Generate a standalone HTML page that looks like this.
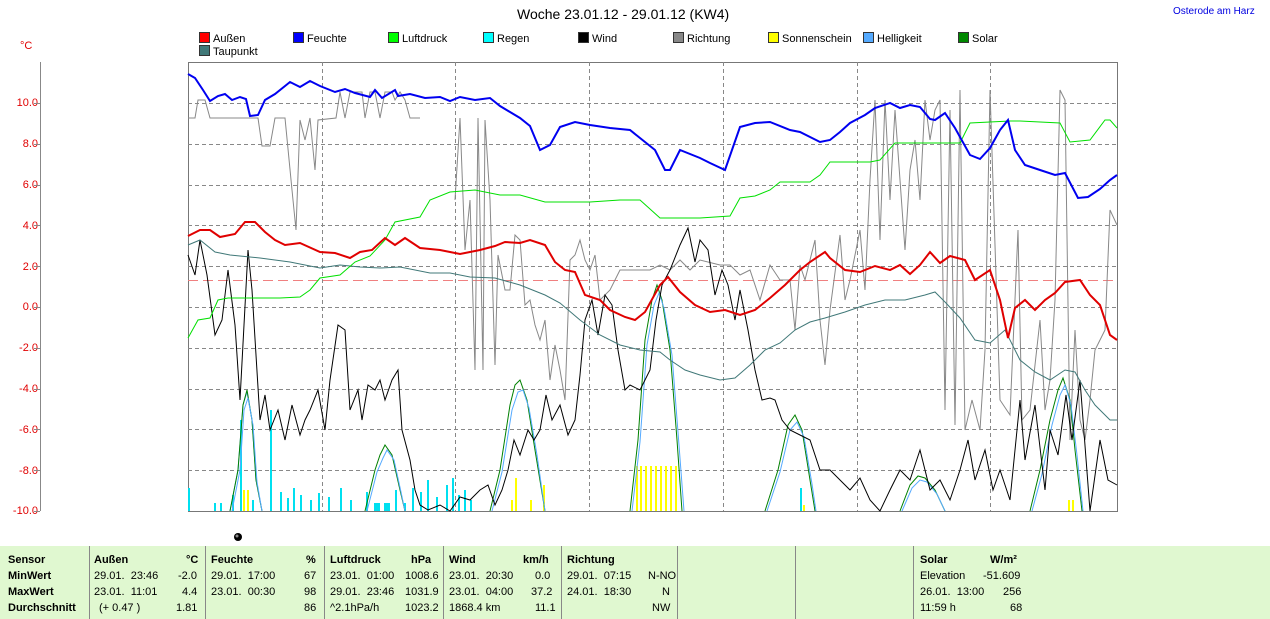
<!DOCTYPE html>
<html><head><meta charset="utf-8"><style>
body{margin:0;width:1270px;height:619px;background:#fff;position:relative;overflow:hidden;font-family:"Liberation Sans",sans-serif;}
.a{position:absolute;white-space:nowrap;}
.lg{position:absolute;font-size:11px;line-height:12px;}
.lg i{display:inline-block;width:9px;height:9px;border:1px solid #333;vertical-align:-1px;margin-right:3px;}
.yl{position:absolute;right:1232px;font-size:11px;color:#e00000;}
#tbl{position:absolute;left:0;top:546px;width:1270px;height:73px;background:#e0f8d0;font-size:11px;}
#tbl .c{position:absolute;}
#tbl .s{position:absolute;top:0;width:1px;height:73px;background:#888;}
.b{font-weight:bold;}
</style></head><body>
<div class="a" style="left:517px;top:6px;font-size:14px;">Woche 23.01.12 - 29.01.12 (KW4)</div>
<div class="a" style="left:1173px;top:6px;font-size:10px;color:#0000e0;">Osterode am Harz</div>
<div class="a" style="left:20px;top:40px;font-size:11px;color:#e00000;">°C</div>

<div class="lg" style="left:199px;top:32px"><i style="background:#f00"></i>Außen</div>
<div class="lg" style="left:293px;top:32px"><i style="background:#00f"></i>Feuchte</div>
<div class="lg" style="left:388px;top:32px"><i style="background:#0f0"></i>Luftdruck</div>
<div class="lg" style="left:483px;top:32px"><i style="background:#0ff"></i>Regen</div>
<div class="lg" style="left:578px;top:32px"><i style="background:#000"></i>Wind</div>
<div class="lg" style="left:673px;top:32px"><i style="background:#888"></i>Richtung</div>
<div class="lg" style="left:768px;top:32px"><i style="background:#ff0"></i>Sonnenschein</div>
<div class="lg" style="left:863px;top:32px"><i style="background:#5af"></i>Helligkeit</div>
<div class="lg" style="left:958px;top:32px"><i style="background:#080"></i>Solar</div>
<div class="lg" style="left:199px;top:45px"><i style="background:#407878"></i>Taupunkt</div>

<div class="yl" style="top:97px">10.0</div>
<div class="yl" style="top:138px">8.0</div>
<div class="yl" style="top:179px">6.0</div>
<div class="yl" style="top:220px">4.0</div>
<div class="yl" style="top:261px">2.0</div>
<div class="yl" style="top:301px">0.0</div>
<div class="yl" style="top:342px">-2.0</div>
<div class="yl" style="top:383px">-4.0</div>
<div class="yl" style="top:424px">-6.0</div>
<div class="yl" style="top:465px">-8.0</div>
<div class="yl" style="top:505px">-10.0</div>

<svg class="a" style="left:0;top:0" width="1270" height="545">
<g stroke="#888" stroke-width="1">
<line x1="40.5" y1="62" x2="40.5" y2="511"/>
<line x1="34" y1="103.5" x2="40" y2="103.5"/><line x1="34" y1="144.5" x2="40" y2="144.5"/><line x1="34" y1="185.5" x2="40" y2="185.5"/><line x1="34" y1="225.5" x2="40" y2="225.5"/><line x1="34" y1="266.5" x2="40" y2="266.5"/><line x1="34" y1="307.5" x2="40" y2="307.5"/><line x1="34" y1="348.5" x2="40" y2="348.5"/><line x1="34" y1="389.5" x2="40" y2="389.5"/><line x1="34" y1="429.5" x2="40" y2="429.5"/><line x1="34" y1="470.5" x2="40" y2="470.5"/><line x1="34" y1="511.5" x2="40" y2="511.5"/>
</g>
<rect x="188.5" y="62.5" width="929" height="449" fill="none" stroke="#777"/>
<g stroke="#888" stroke-dasharray="4,3">
<line x1="188" y1="103.5" x2="1117" y2="103.5"/><line x1="188" y1="144.5" x2="1117" y2="144.5"/><line x1="188" y1="185.5" x2="1117" y2="185.5"/><line x1="188" y1="225.5" x2="1117" y2="225.5"/><line x1="188" y1="266.5" x2="1117" y2="266.5"/><line x1="188" y1="307.5" x2="1117" y2="307.5"/><line x1="188" y1="348.5" x2="1117" y2="348.5"/><line x1="188" y1="389.5" x2="1117" y2="389.5"/><line x1="188" y1="429.5" x2="1117" y2="429.5"/><line x1="188" y1="470.5" x2="1117" y2="470.5"/>
<line x1="322.5" y1="62" x2="322.5" y2="511"/><line x1="455.5" y1="62" x2="455.5" y2="511"/><line x1="589.5" y1="62" x2="589.5" y2="511"/><line x1="723.5" y1="62" x2="723.5" y2="511"/><line x1="857.5" y1="62" x2="857.5" y2="511"/><line x1="990.5" y1="62" x2="990.5" y2="511"/>
</g>
<g fill="#00e0f0">
<rect x="188" y="488" width="2" height="23"/><rect x="214" y="503" width="2" height="8"/><rect x="220" y="503" width="2" height="8"/><rect x="232" y="495" width="2" height="16"/><rect x="240" y="420" width="2" height="91"/><rect x="252" y="500" width="2" height="11"/><rect x="270" y="410" width="2" height="101"/><rect x="280" y="492" width="2" height="19"/><rect x="287" y="498" width="2" height="13"/><rect x="293" y="488" width="2" height="23"/><rect x="300" y="495" width="2" height="16"/><rect x="310" y="500" width="2" height="11"/><rect x="318" y="493" width="2" height="18"/><rect x="328" y="497" width="2" height="14"/><rect x="340" y="488" width="2" height="23"/><rect x="350" y="500" width="2" height="11"/><rect x="366" y="492" width="2" height="19"/><rect x="374" y="503" width="6" height="8"/><rect x="384" y="503" width="6" height="8"/><rect x="395" y="490" width="2" height="21"/><rect x="404" y="503" width="2" height="8"/><rect x="412" y="488" width="2" height="23"/><rect x="420" y="492" width="2" height="19"/><rect x="427" y="480" width="2" height="31"/><rect x="436" y="497" width="2" height="14"/><rect x="446" y="485" width="2" height="26"/><rect x="452" y="478" width="2" height="33"/><rect x="458" y="495" width="2" height="16"/><rect x="464" y="490" width="2" height="21"/><rect x="470" y="500" width="2" height="11"/><rect x="800" y="488" width="2" height="23"/>
</g>
<g fill="#ffff00">
<rect x="243" y="490" width="2" height="21"/><rect x="247" y="490" width="2" height="21"/><rect x="515" y="478" width="2" height="33"/><rect x="511" y="500" width="2" height="11"/><rect x="530" y="500" width="2" height="11"/><rect x="543" y="485" width="2" height="26"/><rect x="636" y="466" width="2" height="45"/><rect x="640" y="466" width="2" height="45"/><rect x="645" y="466" width="2" height="45"/><rect x="650" y="466" width="2" height="45"/><rect x="655" y="466" width="2" height="45"/><rect x="660" y="466" width="2" height="45"/><rect x="665" y="466" width="2" height="45"/><rect x="670" y="466" width="2" height="45"/><rect x="675" y="466" width="2" height="45"/><rect x="803" y="505" width="2" height="6"/><rect x="1068" y="500" width="2" height="11"/><rect x="1072" y="500" width="2" height="11"/>
</g>
<line x1="188" y1="280.5" x2="1117" y2="280.5" stroke="#f08080" stroke-dasharray="10,5"/>
<polyline fill="none" stroke="#888" stroke-width="1" points="188,118 195,118 198,100 205,100 210,118 247,118 258,118 262,146 270,146 275,118 285,118 292,190 296,230 300,120 305,140 310,118 315,170 318,120 336,118 340,92 345,118 350,92 362,92 365,118 370,92 375,92 380,118 385,92 392,92 395,100 400,92 405,100 410,118 420,118"/>
<polyline fill="none" stroke="#888" stroke-width="1" points="455,200 460,118 465,250 470,200 475,370 478,118 483,370 485,120 490,200 495,365 498,255 505,290 510,290 515,235 520,240 525,305 530,300 535,325 540,340 545,320 550,380 555,345 560,370 565,400 570,260 575,255 580,240 585,260 590,270 595,255 600,300 610,290 620,270 650,270 660,265 670,270 680,260 690,270 700,260 720,265 730,265 740,275 750,270 760,300 770,265 780,280 790,280 795,330 800,265 805,280 815,240 820,320 825,365 830,310 840,235 845,300 850,280 860,230 865,290 870,180 875,100 880,240 885,100 890,200 895,110 900,180 905,250 910,170 915,140 920,200 925,100 930,140 935,110 940,100 945,410 950,110 955,425 960,90 965,430 972,400 980,430 985,350 990,90 1000,400 1010,415 1018,230 1022,420 1030,410 1040,320 1045,410 1050,380 1055,300 1060,90 1065,100 1070,440 1075,330 1080,420 1085,440 1090,400 1095,350 1105,330 1110,210 1117,225"/>
<g fill="none" stroke-width="1">
<polyline stroke="#5af" points="230,511 238,470 243,405 247,392 252,420 256,480 262,511 M0,0"/>
</g>
<g fill="none">
<polyline stroke="#008000" points="230,511 238,470 243,405 247,390 252,420 256,480 262,511"/>
<polyline stroke="#008000" points="365,511 375,470 380,455 385,445 392,455 400,490 405,511"/>
<polyline stroke="#008000" points="490,511 500,470 510,405 515,385 520,380 527,400 535,450 545,511"/>
<polyline stroke="#008000" points="630,511 638,440 645,340 652,300 657,285 662,300 670,350 677,440 682,511"/>
<polyline stroke="#008000" points="765,511 778,470 788,425 795,415 802,430 810,480 815,511"/>
<polyline stroke="#008000" points="900,511 910,485 918,476 925,478 935,490 945,511"/>
<polyline stroke="#008000" points="1030,511 1040,470 1050,420 1058,390 1063,378 1070,400 1075,450 1082,511"/>
<polyline stroke="#5af" points="232,511 240,470 244,410 248,398 253,425 257,482 262,511"/>
<polyline stroke="#5af" points="367,511 377,472 383,458 387,450 394,460 401,492 405,511"/>
<polyline stroke="#5af" points="492,511 502,472 512,410 518,392 523,390 529,408 537,455 545,511"/>
<polyline stroke="#5af" points="632,511 640,442 647,345 654,305 659,293 664,308 672,355 679,445 684,511"/>
<polyline stroke="#5af" points="767,511 780,472 790,430 797,422 804,437 812,484 816,511"/>
<polyline stroke="#5af" points="902,511 912,488 920,480 927,482 937,494 945,511"/>
<polyline stroke="#5af" points="1032,511 1042,474 1052,425 1060,395 1065,385 1071,405 1077,455 1083,511"/>
</g>
<polyline fill="none" stroke="#000" stroke-width="1" points="188,255 195,275 200,240 207,275 215,335 222,320 228,270 235,325 240,400 248,250 252,290 260,420 265,395 270,430 278,410 285,440 292,405 300,435 305,420 310,410 318,390 325,430 330,380 338,325 345,330 350,410 358,390 362,420 368,385 375,390 380,380 385,400 392,380 398,370 402,430 410,460 415,490 420,505 428,510 440,505 450,511 460,497 470,500 480,490 488,485 495,505 502,490 508,470 514,440 520,455 528,430 534,440 540,430 546,395 552,420 560,405 568,435 575,420 580,375 585,320 592,300 598,335 605,295 612,305 618,350 625,390 630,385 640,390 650,370 656,320 662,285 670,270 680,245 688,228 695,262 700,240 708,250 715,295 722,270 728,285 735,320 740,290 748,330 755,370 762,400 770,398 775,400 782,420 790,430 800,435 810,440 820,470 830,470 840,480 850,490 860,478 870,500 880,511 890,490 900,470 910,480 920,450 930,490 940,480 950,500 960,470 968,440 975,480 985,450 993,490 1000,470 1010,500 1020,400 1025,460 1035,405 1045,490 1050,430 1058,455 1066,395 1072,440 1080,380 1090,511 1100,440 1108,480 1117,485"/>
<polyline fill="none" stroke="#407878" stroke-width="1" points="188,245 200,240 215,252 230,255 260,258 290,262 320,268 340,265 360,267 380,268 400,267 430,273 450,273 470,277 495,278 520,285 545,295 560,303 580,320 600,335 620,345 640,350 660,352 670,360 685,370 700,375 720,380 735,378 750,365 765,350 780,343 795,330 810,322 825,318 845,312 865,305 885,300 905,300 925,295 935,292 945,302 960,318 975,340 990,343 1005,330 1020,360 1035,372 1050,380 1065,370 1075,372 1085,390 1095,405 1110,420 1117,420"/>
<polyline fill="none" stroke="#00e000" stroke-width="1" points="188,338 198,320 210,318 218,300 228,298 280,298 300,297 310,290 320,278 340,275 355,262 370,256 385,240 395,222 420,217 430,200 450,192 475,190 500,195 520,195 545,202 590,202 620,200 640,200 660,218 700,218 730,216 740,198 755,196 770,190 780,182 810,182 820,175 830,162 870,162 880,160 895,143 960,143 970,123 1010,121 1020,121 1060,123 1070,142 1090,140 1105,120 1110,120 1117,128"/>
<polyline fill="none" stroke="#e00000" stroke-width="2" points="188,236 200,230 210,230 220,237 235,234 245,222 255,222 265,232 275,240 285,245 300,243 320,252 335,253 350,258 360,252 372,250 385,238 395,245 405,238 420,248 440,250 460,254 480,250 495,246 505,242 520,243 530,240 545,245 555,262 565,270 575,272 585,295 600,300 610,310 625,317 635,320 645,312 660,285 668,277 680,292 695,305 710,312 725,310 740,315 755,310 770,298 785,285 800,270 810,262 825,252 830,258 845,270 860,272 875,266 890,270 900,265 910,274 920,265 930,252 940,263 950,256 965,260 975,280 990,270 1000,300 1008,338 1015,308 1025,300 1035,310 1045,300 1055,293 1065,282 1080,280 1090,295 1100,305 1110,335 1117,340"/>
<polyline fill="none" stroke="#0000f0" stroke-width="2" points="188,74 195,78 203,90 210,101 218,96 225,94 232,100 240,97 246,99 250,116 258,115 265,100 275,94 290,82 300,87 310,81 320,86 335,92 345,89 355,93 370,97 375,90 382,98 395,90 398,96 410,94 425,98 440,97 450,101 460,97 475,100 490,98 500,106 510,112 520,118 530,126 540,150 550,145 560,127 575,122 590,125 610,128 630,130 645,142 655,150 665,170 670,170 680,150 700,158 710,163 725,170 740,127 755,123 770,122 790,130 800,132 820,142 830,140 840,132 850,123 865,115 875,108 890,103 900,108 910,105 920,107 930,119 935,120 945,113 955,128 970,155 980,159 990,148 1000,130 1008,120 1015,150 1025,165 1040,170 1055,175 1065,173 1078,198 1088,197 1100,189 1110,180 1117,175"/>
<circle cx="238" cy="537" r="4" fill="#000"/><circle cx="237" cy="536" r="1.5" fill="#888"/>
</svg>

<div id="tbl">
<div class="s" style="left:89px"></div><div class="s" style="left:205px"></div><div class="s" style="left:324px"></div><div class="s" style="left:443px"></div><div class="s" style="left:561px"></div><div class="s" style="left:677px"></div><div class="s" style="left:795px"></div><div class="s" style="left:913px"></div>
<div class="c b" style="left:8px;top:8px">Sensor</div><div class="c b" style="left:8px;top:24px">MinWert</div><div class="c b" style="left:8px;top:40px">MaxWert</div><div class="c b" style="left:8px;top:56px">Durchschnitt</div>
<div class="c b" style="left:94px;top:8px">Außen</div><div class="c b" style="left:186px;top:8px">°C</div>
<div class="c" style="left:94px;top:24px">29.01.&nbsp; 23:46</div><div class="c" style="left:178px;top:24px">-2.0</div>
<div class="c" style="left:94px;top:40px">23.01.&nbsp; 11:01</div><div class="c" style="left:182px;top:40px">4.4</div>
<div class="c" style="left:99px;top:56px">(+ 0.47 )</div><div class="c" style="left:176px;top:56px">1.81</div>
<div class="c b" style="left:211px;top:8px">Feuchte</div><div class="c b" style="left:306px;top:8px">%</div>
<div class="c" style="left:211px;top:24px">29.01.&nbsp; 17:00</div><div class="c" style="left:304px;top:24px">67</div>
<div class="c" style="left:211px;top:40px">23.01.&nbsp; 00:30</div><div class="c" style="left:304px;top:40px">98</div>
<div class="c" style="left:304px;top:56px">86</div>
<div class="c b" style="left:330px;top:8px">Luftdruck</div><div class="c b" style="left:411px;top:8px">hPa</div>
<div class="c" style="left:330px;top:24px">23.01.&nbsp; 01:00</div><div class="c" style="left:405px;top:24px">1008.6</div>
<div class="c" style="left:330px;top:40px">29.01.&nbsp; 23:46</div><div class="c" style="left:405px;top:40px">1031.9</div>
<div class="c" style="left:330px;top:56px">^2.1hPa/h</div><div class="c" style="left:405px;top:56px">1023.2</div>
<div class="c b" style="left:449px;top:8px">Wind</div><div class="c b" style="left:523px;top:8px">km/h</div>
<div class="c" style="left:449px;top:24px">23.01.&nbsp; 20:30</div><div class="c" style="left:535px;top:24px">0.0</div>
<div class="c" style="left:449px;top:40px">23.01.&nbsp; 04:00</div><div class="c" style="left:531px;top:40px">37.2</div>
<div class="c" style="left:449px;top:56px">1868.4 km</div><div class="c" style="left:535px;top:56px">11.1</div>
<div class="c b" style="left:567px;top:8px">Richtung</div>
<div class="c" style="left:567px;top:24px">29.01.&nbsp; 07:15</div><div class="c" style="left:648px;top:24px">N-NO</div>
<div class="c" style="left:567px;top:40px">24.01.&nbsp; 18:30</div><div class="c" style="left:662px;top:40px">N</div>
<div class="c" style="left:652px;top:56px">NW</div>
<div class="c b" style="left:920px;top:8px">Solar</div><div class="c b" style="left:990px;top:8px">W/m²</div>
<div class="c" style="left:920px;top:24px">Elevation</div><div class="c" style="left:983px;top:24px">-51.609</div>
<div class="c" style="left:920px;top:40px">26.01.&nbsp; 13:00</div><div class="c" style="left:1003px;top:40px">256</div>
<div class="c" style="left:920px;top:56px">11:59 h</div><div class="c" style="left:1010px;top:56px">68</div>
</div>
</body></html>
